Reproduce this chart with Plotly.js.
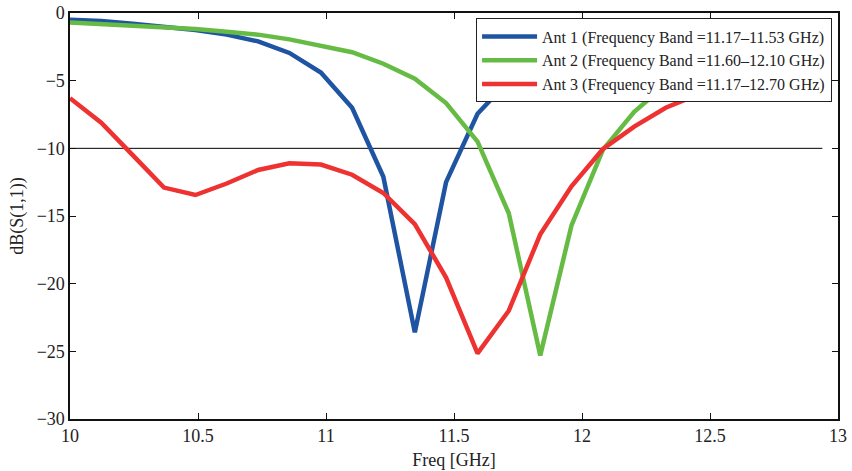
<!DOCTYPE html>
<html>
<head>
<meta charset="utf-8">
<script src="https://cdn.plot.ly/plotly-3.0.1.min.js"></script>
<style>html,body{margin:0;padding:0;background:#fff;}#chart{width:852px;height:471px;}</style>
</head>
<body>
<div id="chart"></div>
<script>
// Frequency points (GHz)
const freq = [10.00, 10.122, 10.245, 10.367, 10.490, 10.612, 10.735, 10.857, 10.980, 11.102,
              11.224, 11.347, 11.469, 11.592, 11.714, 11.837, 11.959, 12.082, 12.204, 12.327,
              12.449, 12.571, 12.694, 12.816, 12.939];
// S11 in dB
const ant1 = [-0.5, -0.6, -0.8, -1.0, -1.25, -1.6, -2.1, -2.95, -4.4, -7.0,
              -12.1, -23.6, -12.5, -7.45, -5.0, -3.6, -2.8, -2.2, -1.8, -1.5,
              -1.3, -1.1, -1.0, -0.9, -0.85];
const ant2 = [-0.7, -0.8, -0.9, -1.0, -1.18, -1.38, -1.6, -1.95, -2.4, -2.9,
              -3.75, -4.85, -6.65, -9.5, -14.8, -25.3, -15.7, -10.1, -7.3, -5.3,
              -3.9, -3.0, -2.4, -1.9, -1.6];
const ant3 = [-6.3, -8.1, -10.5, -12.9, -13.45, -12.6, -11.6, -11.1, -11.2, -11.95,
              -13.3, -15.6, -19.55, -25.15, -22.0, -16.35, -12.8, -10.05, -8.4, -7.0,
              -6.05, -5.3, -4.7, -4.2, -3.8];
const names = ["Ant 1 (Frequency Band =11.17\u201311.53 GHz)",
               "Ant 2 (Frequency Band =11.60\u201312.10 GHz)",
               "Ant 3 (Frequency Band =11.17\u201312.70 GHz)"];
const threshold = -10;
const xTicks = [10, 10.5, 11, 11.5, 12, 12.5, 13];
const xTickText = ["10", "10.5", "11", "11.5", "12", "12.5", "13"];
const yTicks = [0, -5, -10, -15, -20, -25, -30];
const yTickText = ["0", "\u22125", "\u221210", "\u221215", "\u221220", "\u221225", "\u221230"];

const colors = ["#1f54a3", "#66bb44", "#ee3131"];
const font = "Liberation Serif, Times New Roman, serif";

const traces = [
  {x: [freq[0], freq[freq.length - 1]], y: [threshold, threshold], mode: "lines",
   line: {color: "#000", width: 1}, showlegend: false, hoverinfo: "skip"},
  {x: freq, y: ant1, name: names[0], mode: "lines", line: {color: colors[0], width: 4.5}},
  {x: freq, y: ant2, name: names[1], mode: "lines", line: {color: colors[1], width: 4.5}},
  {x: freq, y: ant3, name: names[2], mode: "lines", line: {color: colors[2], width: 4.5}}
];

const axisCommon = {
  showgrid: false, zeroline: false, showline: true, linecolor: "#111", linewidth: 1.6,
  mirror: "allticks", ticks: "inside", ticklen: 6, tickwidth: 1, tickcolor: "#111",
  tickfont: {family: font, size: 18, color: "#222"}
};

const layout = {
  width: 852, height: 471,
  margin: {l: 70, r: 14, t: 13, b: 52},
  paper_bgcolor: "#fff", plot_bgcolor: "#fff",
  font: {family: font, color: "#222"},
  xaxis: Object.assign({}, axisCommon, {
    range: [10, 13], tickvals: xTicks, ticktext: xTickText,
    title: {text: "Freq [GHz]", font: {family: font, size: 18, color: "#222"}, standoff: 8}
  }),
  yaxis: Object.assign({}, axisCommon, {
    range: [-30, 0], tickvals: yTicks, ticktext: yTickText,
    title: {text: "dB(S(1,1))", font: {family: font, size: 18, color: "#222"}, standoff: 8}
  }),
  legend: {
    x: 0.992, y: 0.987, xanchor: "right", yanchor: "top",
    bgcolor: "#fff", bordercolor: "#222", borderwidth: 1.2,
    font: {family: font, size: 16, color: "#222"},
    tracegroupgap: 0, itemwidth: 55
  },
  showlegend: true
};

Plotly.newPlot("chart", traces, layout, {staticPlot: true, displayModeBar: false});
</script>
</body>
</html>
